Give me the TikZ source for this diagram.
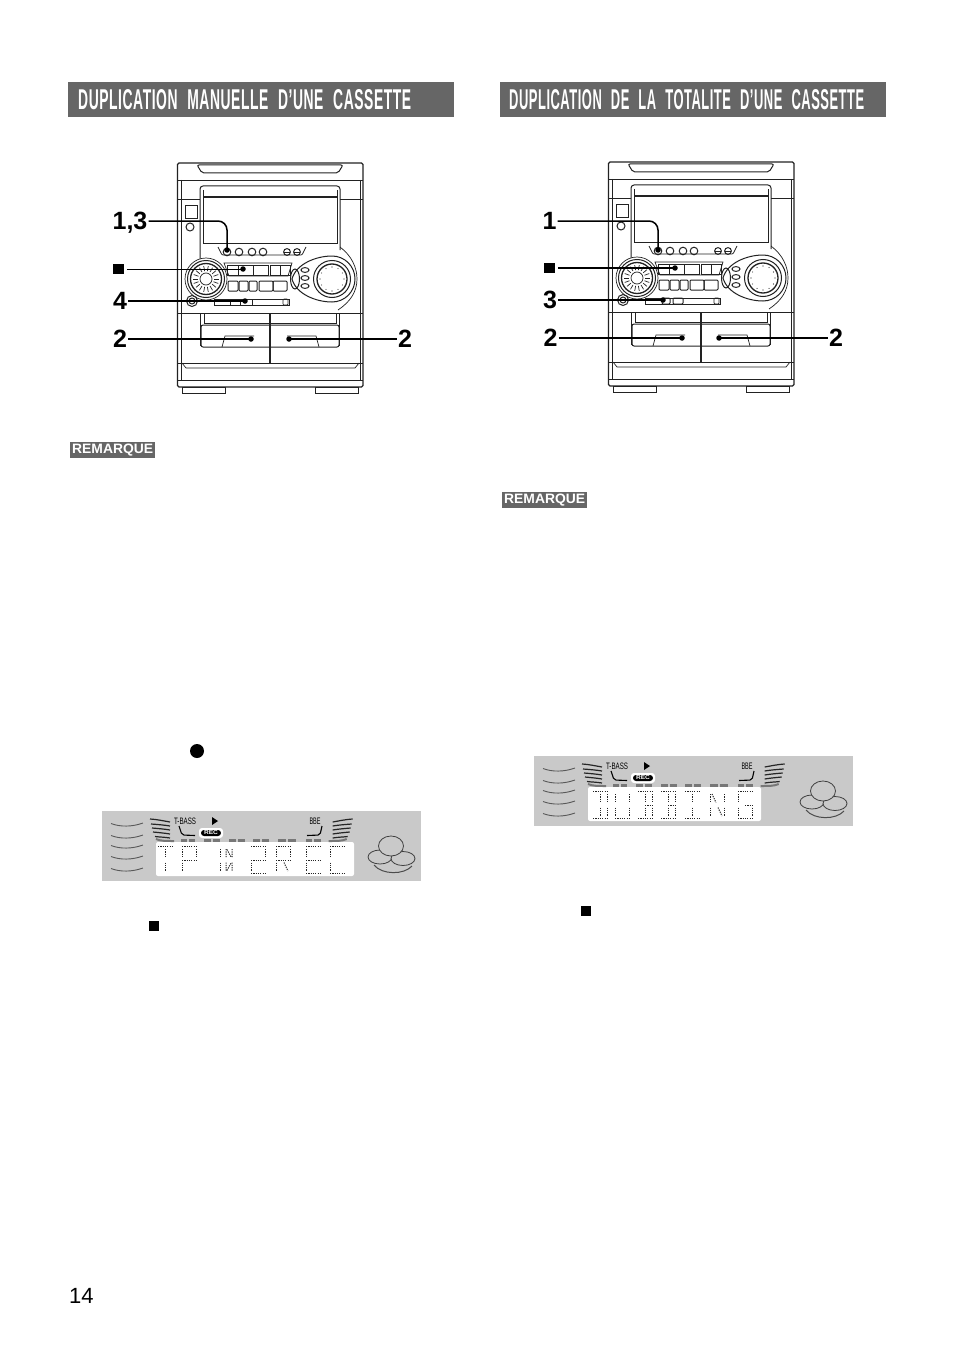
\documentclass[tikz,border=0pt]{standalone}
\usepackage{fontspec}
\setmainfont{Liberation Sans}
\definecolor{barg}{HTML}{666666}
\definecolor{lcdg}{HTML}{C9C9C9}
\definecolor{segg}{HTML}{777777}
\definecolor{ink}{HTML}{222222}
\tikzset{
  body/.style={draw=ink,line width=1pt},
  thinbody/.style={draw=ink,line width=0.7pt},
  conn/.style={draw=black,line width=1.5pt},
  conndot/.style={circle,fill=black,inner sep=0pt,minimum size=5.5pt},
  biglabel/.style={font=\fontsize{25}{25}\selectfont\bfseries,inner sep=1pt,text height=17pt,text depth=0pt,text=black},
  stopmark/.style={fill=black,inner sep=0pt,minimum size=10.5pt},
  titlebar/.style={fill=barg,anchor=north west,minimum width=386pt,minimum height=35pt,inner sep=0pt},
  titletext/.style={text=white,anchor=west,inner sep=0pt,font=\bfseries\addfontfeature{LetterSpace=4}},
  notebadge/.style={fill=barg,anchor=north west,minimum width=85pt,minimum height=15.5pt,inner sep=0pt,text=white,font=\bfseries},
  lcdseg/.style={draw=black!85,line width=1pt,dash pattern=on 1.2pt off 1.1pt},
  ripple/.style={draw=black!65,line width=0.9pt},
  wing/.style={draw=black!85,line width=1.2pt},
  segdash/.style={draw=segg,line width=3pt},
}
% LCD segments in a 14 x 27 cell
\newcommand\sgT{\draw[lcdseg](0,0)--(14,0);}
\newcommand\sgB{\draw[lcdseg](0,27)--(14,27);}
\newcommand\sgM{\draw[lcdseg](0,13.5)--(14,13.5);}
\newcommand\sgMR{\draw[lcdseg](7,13.5)--(14,13.5);}
\newcommand\sgUL{\draw[lcdseg](0,2.5)--(0,11);}
\newcommand\sgLL{\draw[lcdseg](0,16)--(0,24.5);}
\newcommand\sgUR{\draw[lcdseg](14,2.5)--(14,11);}
\newcommand\sgLR{\draw[lcdseg](14,16)--(14,24.5);}
\newcommand\sgUC{\draw[lcdseg](7,2.5)--(7,11);}
\newcommand\sgLC{\draw[lcdseg](7,16)--(7,24.5);}
\newcommand\sgDA{\draw[lcdseg](2,2.5)--(6,11);}
\newcommand\sgDB{\draw[lcdseg](8,16)--(12,24.5);}
\newcommand\lcdch[2]{\begin{scope}[shift={(#1,35.5)}]#2\end{scope}}
% grey display panel
\newcommand\displaypanel[2]{%
  \fill[lcdg] (0,0) rectangle (319,70);
  \fill[white,rounded corners=2pt] (54,31) rectangle (#1,65);
  \foreach \yy in {14,26,36,47,59}
    \draw[ripple] (9,\yy-1.5) .. controls (18,\yy+2) and (30,\yy+2) .. (41,\yy-2);
  \foreach \ya/\yb/\xa in {8/11/48,13/15/49,17/19/50,21/23/51,25.5/27/53}{
    \draw[wing] (\xa,\ya) .. controls (56,\ya+.5) and (62,\yb-1) .. (68,\yb);
    \draw[wing] (298.7-\xa,\ya) .. controls (242.7,\ya+.5) and (236.7,\yb-1) .. (230.7,\yb);
  }
  \draw[segg,line width=2pt] (54,28) .. controls (58,30) and (64,30) .. (72,30);
  \draw[segg,line width=2pt] (244.7,28) .. controls (240.7,30) and (234.7,30) .. (226.7,30);
  \foreach \xa/\xb in {79/85,87/93,102/109,111/118,127/134,136/143,151/158,160/167,176/184,186/194,204/210,212/219}
    \draw[segdash] (\xa,29) -- (\xb,29);
  \node[inner sep=0pt] (#2tb) at (83,10) {\resizebox{22pt}{6.5pt}{T-BASS}};
  \node[inner sep=0pt] (#2bb) at (213,10) {\resizebox{11pt}{6.5pt}{BBE}};
  \fill[black] (110,6) -- (116,10) -- (110,14) -- cycle;
  \fill[white,rounded corners=3pt] (97,17) rectangle (121,27);
  \fill[black,rounded corners=3pt] (99,19) rectangle (119,25);
  \node[inner sep=0pt,text=white] (#2rc) at (109,22) {\resizebox{14pt}{4pt}{\bfseries REC}};
  \draw[black,line width=1.1pt,rounded corners=2pt] (77,15) -- (80,24) -- (93,24.5);
  \draw[black,line width=1.1pt,rounded corners=2pt] (220,15) -- (218,24) -- (205,24.5);
  \draw[black!70,line width=1pt] (272,54) .. controls (280,64) and (302,64) .. (310,55);
  \draw[black!75,line width=0.8pt,fill=lcdg] (278,46) ellipse[x radius=12,y radius=7];
  \draw[black!75,line width=0.8pt,fill=lcdg] (301,47.5) ellipse[x radius=12,y radius=7];
  \draw[black!75,line width=0.8pt,fill=lcdg] (289,35) ellipse[x radius=12.5,y radius=10];
}
% the stereo front
\newcommand\stereo[1]{%
  \draw[body,fill=white] (182,387) rectangle (225,393);
  \draw[body,fill=white] (315,387) rectangle (358,393);
  \draw[body,line width=1.3pt,rounded corners=1.5pt] (177.5,163) rectangle (363,387);
  \draw[thinbody] (181,180) -- (181,380) (360,180) -- (360,380);
  \draw[thinbody] (178,180) -- (363,180) (178,199) -- (200,199) (340,199) -- (363,199);
  \draw[body,rounded corners=2pt] (197,165) -- (343,165) -- (338,173) -- (202,173) -- cycle;
  \draw[body,rounded corners=3pt] (200,265) -- (200,186) -- (340,186) -- (340,250);
  \draw[body,line width=1.2pt] (203,197) -- (337,197);
  \draw[thinbody] (203,190) -- (203,243) -- (337,243) -- (337,190);
  \draw[body] (185,205) rectangle (197,218);
  \draw[body] (190,227) circle[radius=4];
  \draw[thinbody,rounded corners=1pt] (218,247) -- (222,255) -- (302,255) -- (306,247);
  \foreach \xx in {227,239,252,263} \draw[body] (\xx,252) circle[radius=3.8];
  \foreach \xx in {287,297} {\draw[body] (\xx,252) circle[radius=3.4]; \draw[thinbody] (\xx-3.4,252) -- (\xx+3.4,252);}
  % left knob
  \begin{scope}[shift={(206,279)}]
    \draw[thinbody,fill=white] (0,0) circle[radius=21];
    \draw[body] (0,0) circle[radius=18.5];
    \draw[body,line width=1.3pt] (0,0) circle[radius=15.5];
    \draw[thinbody] (0,0) circle[radius=6];
    \foreach \an in {0,20,...,340} \draw[thinbody] (\an:8) -- (\an:13);
  \end{scope}
  % button rows
  \draw[thinbody] (224,263) -- (292,263) -- (288,276) -- (229,276) -- cycle;
  \draw[body] (227,265) rectangle (268,275) (238,265) -- (238,275) (253,265) -- (253,275);
  \draw[body] (270,265) rectangle (290,275) (280,265) -- (280,275);
  \foreach \xa/\xb in {228/238,239/248,249/257,259/273,273/287}
    \draw[body,rounded corners=1pt] (\xa,281) rectangle (\xb,291);
  % right control cluster
  \draw[thinbody] (340,247) .. controls (352,256) and (357,268) .. (357,279) .. controls (357,292) and (350,302) .. (338,310);
  \draw[body,fill=white] (292,279) .. controls (296,264) and (316,256) .. (332,256)
     arc[start angle=-90,end angle=90,radius=23] .. controls (316,302) and (296,294) .. (292,279) -- cycle;
  \draw[body] (295,279) ellipse[x radius=4.5,y radius=10];
  \foreach \yy in {270,278,286} \draw[body] (305,\yy) ellipse[x radius=4,y radius=2.4];
  \begin{scope}[shift={(332,279)}]
    \draw[body] (0,0) circle[radius=18.5];
    \draw[body,line width=1.3pt] (0,0) circle[radius=15];
    \foreach \an in {0,30,...,330} \fill[ink] (\an:12) circle[radius=.6];
  \end{scope}
  % slider
  \draw[body] (192,301) circle[radius=5.5] (192,301) circle[radius=3];
  \draw[thinbody] (214,299) rectangle (289,305);
  \draw[thinbody,rounded corners=1pt] (283,299) rectangle (288,305);
  #1
  % cassette decks
  \draw[thinbody] (178,313) -- (200,313);
  \draw[thinbody] (338,313) -- (363,313);
  \draw[body] (200,313) -- (340,313);
  \draw[body] (200,313) -- (200,346) (339,313) -- (339,346);
  \draw[thinbody] (204,313) -- (204,323) -- (336,323) -- (336,313);
  \draw[body,rounded corners=2pt] (201,325) -- (201,347) -- (339,347) -- (339,325) -- cycle;
  \draw[thinbody] (222,347) -- (225,336) -- (254,336) (287,336) -- (316,336) -- (319,347);
  \draw[body,line width=1.2pt] (270,313) -- (270,363);
  \draw[body] (178,363) -- (363,363);
  \draw[thinbody] (182,363) -- (186,368) -- (355,368) -- (359,363);
  \draw[thinbody] (178,380) -- (363,380);
}
\begin{document}
\begin{tikzpicture}[x=1pt,y=-1pt]
\useasboundingbox (0,0) rectangle (954,1351);
\fill[white] (0,0) rectangle (954,1351);
% headings
\node[titlebar] (barL) at (68,82) {};
\node[titlebar] (barR) at (500,82) {};
\node[titletext] (titleL) at (78,99.5) {\resizebox{333pt}{20pt}{DUPLICATION\hspace{.7em}MANUELLE\hspace{.7em}D’UNE\hspace{.7em}CASSETTE}};
\node[titletext] (titleR) at (509,99.5) {\resizebox{355pt}{20pt}{DUPLICATION\hspace{.7em}DE\hspace{.7em}LA\hspace{.7em}TOTALITE\hspace{.7em}D’UNE\hspace{.7em}CASSETTE}};
% stereos
\stereo{\draw[body] (230,299) rectangle (252,305) (240,299) -- (240,305);}
\begin{scope}[shift={(431,-1)}]
\stereo{\draw[body,rounded corners=1pt] (231,299) rectangle (239,305); \draw[body,rounded corners=1pt] (242,299) rectangle (252,305);}
\end{scope}
% left callouts
\node[conndot] (a1) at (227,250) {};
\node[conndot] (a2) at (243,269) {};
\node[conndot] (a3) at (245,301) {};
\node[conndot] (a4) at (251,339) {};
\node[conndot] (a5) at (289,339) {};
\node[biglabel] (la1) at (130,221) {1,3};
\node[stopmark] (la2) at (118.5,269) {};
\node[biglabel] (la3) at (120,301) {4};
\node[biglabel] (la4) at (120,339) {2};
\node[biglabel] (la5) at (405,339) {2};
\draw[conn,rounded corners=9pt] (la1.east) -| (a1.center);
\draw[draw=black,line width=0.9pt] ([xshift=3pt]la2.east) -- (a2.center);
\draw[conn] (la3.east) -- (a3.center);
\draw[conn] (la4.east) -- (a4.center);
\draw[conn] (la5.west) -- (a5.center);
% right callouts
\node[conndot] (b1) at (658,250) {};
\node[conndot] (b2) at (675,268) {};
\node[conndot] (b3) at (663,300) {};
\node[conndot] (b4) at (682,338) {};
\node[conndot] (b5) at (719,338) {};
\node[biglabel] (lb1) at (549.5,221) {1};
\node[stopmark] (lb2) at (549.5,268) {};
\node[biglabel] (lb3) at (550,300) {3};
\node[biglabel] (lb4) at (550.5,338) {2};
\node[biglabel] (lb5) at (836,338) {2};
\draw[conn,rounded corners=9pt] (lb1.east) -| (b1.center);
\draw[conn] ([xshift=3pt]lb2.east) -- (b2.center);
\draw[conn] (lb3.east) -- (b3.center);
\draw[conn] (lb4.east) -- (b4.center);
\draw[conn] (lb5.west) -- (b5.center);
% note badges
\node[notebadge] (noteL) at (70,442) {\resizebox{81pt}{9.5pt}{REMARQUE}};
\node[notebadge] (noteR) at (502,492) {\resizebox{81pt}{9.5pt}{REMARQUE}};
% loose symbols
\node[circle,fill=black,inner sep=0pt,minimum size=14pt] (recdot) at (197,751) {};
\node[fill=black,inner sep=0pt,minimum size=10.5pt] (stopL) at (154,926) {};
\node[fill=black,inner sep=0pt,minimum size=10.5pt] (stopR) at (586,911) {};
% left display
\begin{scope}[shift={(102,811)}]
\displaypanel{252}{dl}
\lcdch{56}{\sgT\sgUC\sgLC}
\lcdch{80}{\sgT\sgUL\sgLL\sgUR\sgM}
\lcdch{118}{\sgUL\sgLL\draw[lcdseg](6,2.5)--(6,11)(6,16)--(6,24.5)(12,2.5)--(12,11)(12,16)--(12,24.5)(7,3)--(11,10.5)(7,24)--(11,16.5);}
\lcdch{149}{\sgT\sgUR\sgM\sgLL\sgB}
\lcdch{174}{\sgT\sgUL\sgLL\sgUR\sgM\sgDB}
\lcdch{204}{\sgT\sgUL\sgLL\sgM\sgB}
\lcdch{228}{\sgT\sgUL\sgLL\sgB}
\end{scope}
% right display
\begin{scope}[shift={(534,756)}]
\displaypanel{227}{dr}
\lcdch{59}{\sgT\sgUC\sgLC\sgB\sgUR\sgLR}
\lcdch{81}{\sgUL\sgLL\sgB\sgUR\sgLR}
\lcdch{104}{\sgT\sgUC\sgLC\sgMR\sgUR\sgLR\sgB}
\lcdch{127}{\sgT\sgUC\sgLC\sgMR\sgUR\sgLR\sgB}
\lcdch{151}{\sgT\sgUC\sgLC\sgB}
\lcdch{176}{\sgUL\sgLL\sgUR\sgLR\sgDA\sgDB}
\lcdch{204}{\sgT\sgUL\sgLL\sgB\sgLR\sgMR}
\end{scope}
% page number
\node[inner sep=0pt,anchor=west,font=\fontsize{22}{22}\selectfont] (pageno) at (69,1296) {14};
\end{tikzpicture}
\end{document}
